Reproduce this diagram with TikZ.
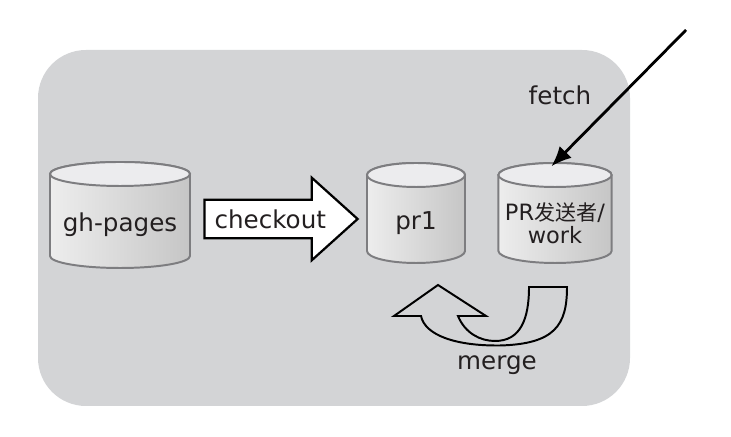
\documentclass[tikz,border=0pt]{standalone}
\usepackage{fontspec}
\setmainfont{DejaVu Sans}
\newfontfamily\cjk{Noto Sans CJK SC}
\usetikzlibrary{shapes.arrows,arrows.meta}

\definecolor{panelgray}{RGB}{211,212,214}
\definecolor{repoline}{RGB}{125,125,128}
\definecolor{repotopfill}{RGB}{236,236,238}
\definecolor{inkblack}{RGB}{35,31,32}

\tikzset{
 panel/.style={fill=panelgray, rounded corners=1.2cm},
 repobody/.style={draw=repoline, line width=1.4pt, left color=gray!14, middle color=white, right color=gray!45},
 repotop/.style={draw=repoline, line width=1.4pt, fill=repotopfill},
 repobox/.style={draw=none, inner sep=0pt},
 lbl/.style={text=inkblack, font=\fontsize{17.5}{20}\selectfont},
 fatarrow/.style={single arrow, draw=black, line width=1.6pt, fill=white, text=inkblack,
  font=\fontsize{17.5}{20}\selectfont, single arrow head extend=0.55cm,
  single arrow tip angle=84, inner ysep=6.2pt, inner xsep=3.5pt},
 fetchline/.style={draw=black, line width=2pt, -{Latex[length=5mm,width=4.2mm]}},
 mergeband/.style={draw=black, line width=1.4pt, fill=panelgray, line join=miter}
}

\newcommand{\repo}[6]{%
 \shadedraw[repobody] ({#2-#4/2},{#3+#5/2-0.3}) -- ({#2-#4/2},{#3-#5/2+0.3})
  arc[start angle=180, end angle=360, x radius=#4/2, y radius=0.3]
  -- ({#2+#4/2},{#3+#5/2-0.3})
  arc[start angle=0, end angle=180, x radius=#4/2, y radius=0.3] -- cycle;
 \filldraw[repotop] (#2,{#3+#5/2-0.3}) ellipse[x radius=#4/2, y radius=0.3];
 \node[repobox, minimum width=#4 cm, minimum height=#5 cm] (#1) at (#2,#3) {};
 \node[lbl, align=center] (#1-name) at ([yshift=-0.25cm]#1.center) {#6};
}

\begin{document}
\begin{tikzpicture}
 \useasboundingbox (0,0) rectangle (18.275,10.925);
 \fill[panel] (0.95,0.775) rectangle (15.75,9.675);

 \repo{gh}{3.0}{5.55}{3.5}{2.65}{gh-pages}
 \repo{pr1}{10.4}{5.6}{2.45}{2.5}{pr1}
 \repo{work}{13.875}{5.6}{2.83}{2.5}{}
 \node[lbl, align=center, font=\fontsize{16}{16.4}\selectfont] (work-name) at ([yshift=-0.25cm]work.center)
  {PR{\cjk\fontsize{15}{16.4}\selectfont 发送者}/\\work};

 \node[fatarrow, anchor=tail, minimum height=3.83cm] (checkout) at ([xshift=0.325cm, yshift=-0.1cm]gh.east) {checkout};

 \coordinate (fetchfrom) at (17.15,10.175);
 \draw[fetchline, shorten >=-0.125cm] (fetchfrom) -- (work.north);
 \node[lbl] (fetch) at (14.0,8.55) {fetch};

 \draw[mergeband] (13.225,3.75) -- (14.175,3.75)
  .. controls (14.175,2.8) and (13.875,2.325) .. (12.5,2.2875)
  .. controls (11.375,2.275) and (10.625,2.55) .. (10.525,3.025)
  -- (9.85,3.025) -- (10.95,3.8) -- (12.15,3.025) -- (11.45,3.025)
  .. controls (11.625,2.6) and (12.0,2.4) .. (12.375,2.4)
  .. controls (13.0,2.4) and (13.225,2.925) .. (13.225,3.75) -- cycle;
 \node[lbl] (merge) at (12.425,1.8) {merge};
\end{tikzpicture}
\end{document}
